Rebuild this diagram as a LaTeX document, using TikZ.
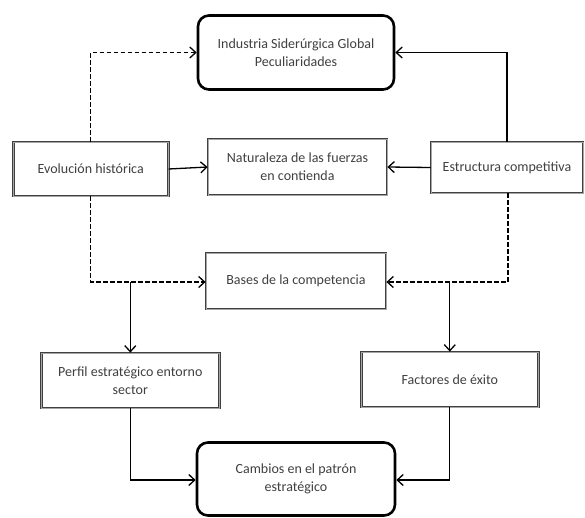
\documentclass[tikz,border=0pt]{standalone}
\usepackage{fontspec}
\setmainfont{Carlito}
\usetikzlibrary{arrows.meta}
\definecolor{txt}{HTML}{404040}
\tikzset{
  box/.style={draw=black!75, double=gray!70, double distance=1pt, line width=0.8pt,
    fill=white, inner sep=0pt, align=center, text=txt, font=\fontsize{14}{18}\selectfont},
  rbox/.style={draw=black, line width=2.6pt, rounded corners=11pt, fill=white,
    inner sep=0pt, align=center, text=txt, font=\fontsize{14}{18}\selectfont},
  conn/.style={line width=1.3pt, -{Straight Barb[length=6pt,width=11pt,line width=1.3pt]}},
  dsh/.style={dash pattern=on 4.5pt off 2.5pt}
}
\begin{document}
\begin{tikzpicture}[x=1pt,y=-1pt]
\useasboundingbox (0,0) rectangle (585,517);
% nodes
\node[rbox, minimum width=196pt, minimum height=74pt] (top) at (296,52.5) {Industria Siderúrgica Global\\Peculiaridades};
\node[box, minimum width=155pt, minimum height=54pt] (evo) at (90.7,169) {Evolución histórica};
\node[box, minimum width=179pt, minimum height=56pt] (nat) at (297.5,167) {Naturaleza de las fuerzas\\en contienda};
\node[box, minimum width=152pt, minimum height=51pt] (est) at (507,167.5) {Estructura competitiva};
\node[box, minimum width=180pt, minimum height=56pt] (bas) at (296,281) {Bases de la competencia};
\node[box, minimum width=178pt, minimum height=55pt] (per) at (130.3,380.5) {Perfil estratégico entorno\\sector};
\node[box, minimum width=177pt, minimum height=55pt] (fac) at (449.8,379.5) {Factores de éxito};
\node[rbox, minimum width=198pt, minimum height=73pt] (cam) at (296,479) {Cambios en el patrón\\estratégico};
% coordinates
\coordinate (c1) at (90.7,52.5);
\coordinate (c2) at (507,52.5);
\coordinate (c3) at (90.7,282);
\coordinate (c4) at (508,282);
\coordinate (b1) at (130.3,282);
\coordinate (b2) at (449.8,282);
\coordinate (d1) at (130.3,480);
\coordinate (d2) at (449.8,480);
% connectors
\draw[conn, dsh] (evo.north -| c1) -- (c1) -- (c1 -| top.west);
\draw[conn] (est.north -| c2) -- (c2) -- (c2 -| top.east);
\draw[conn] (evo.east) -- (nat.west);
\draw[conn] (est.west) -- (nat.east);
\draw[conn, dsh] (evo.south -| c3) -- (c3) -- (c3 -| bas.west);
\draw[conn, dsh] (est.south -| c4) -- (c4) -- (c4 -| bas.east);
\draw[conn] (b1) -- (per.north);
\draw[conn] (b2) -- (fac.north);
\draw[conn] (per.south) -- (d1) -- (d1 -| cam.west);
\draw[conn] (fac.south) -- (d2) -- (d2 -| cam.east);
\end{tikzpicture}
\end{document}
